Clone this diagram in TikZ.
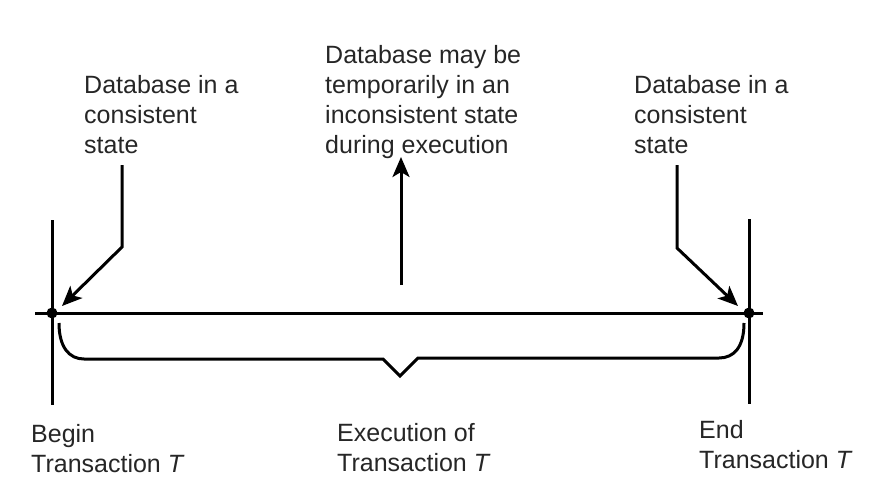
\documentclass[tikz,border=0pt]{standalone}
\usepackage{fontspec}
\setmainfont{Liberation Sans}
\usetikzlibrary{arrows.meta}
\tikzset{
  lbl/.style={inner sep=0pt, anchor=base west, align=left,
    font=\fontsize{25}{30}\selectfont, text=black!85},
  ln/.style={line width=3pt, black},
  arr/.style={ln, -{Stealth[length=20pt,width=17pt,inset=5pt]}},
  dotn/.style={circle, fill=black, inner sep=0pt, minimum size=11pt}
}
\begin{document}
\begin{tikzpicture}[x=1pt,y=-1pt]
\useasboundingbox (0,0) rectangle (882,490);
% text blocks (anchor = baseline of last line)
\node[lbl] (tl) at (84,153) {Database in a\\consistent\\state};
\node[lbl] (tm) at (325,153) {Database may be\\temporarily in an\\inconsistent state\\during execution};
\node[lbl] (tr) at (634,153) {Database in a\\consistent\\state};
\node[lbl] (bl) at (31,472) {Begin\\Transaction \textit{T}};
\node[lbl] (bm) at (337,471) {Execution of\\Transaction \textit{T}};
\node[lbl] (br) at (699,468) {End\\Transaction \textit{T}};
% timeline
\coordinate (tlL) at (35,313);
\coordinate (tlR) at (763,313);
\draw[ln] (tlL) -- (tlR);
% verticals
\coordinate (vlT) at (52,220); \coordinate (vlB) at (52,405);
\coordinate (vrT) at (749,219); \coordinate (vrB) at (749,404);
\draw[ln] (vlT) -- (vlB);
\draw[ln] (vrT) -- (vrB);
\node[dotn] (b) at (52,313) {};
\node[dotn] (e) at (749,313) {};
% left arrow
\coordinate (la0) at (122,165); \coordinate (la1) at (122,247); \coordinate (la2) at (62,306);
\draw[arr] (la0) -- (la1) -- (la2);
% right arrow
\coordinate (ra0) at (677,165); \coordinate (ra1) at (677,248); \coordinate (ra2) at (738,306);
\draw[arr] (ra0) -- (ra1) -- (ra2);
% middle arrow
\coordinate (ma0) at (401,285); \coordinate (ma1) at (401,157);
\draw[arr] (ma0) -- (ma1);
% brace
\coordinate (bs) at (59,323); \coordinate (be) at (744,323);
\draw[ln, line join=miter] (bs) .. controls (59,347) and (69,359) .. (84,359)
  -- (383,359) -- (400,376) -- (418,358) -- (719,358)
  .. controls (734,358) and (744,347) .. (be);
\end{tikzpicture}
\end{document}
